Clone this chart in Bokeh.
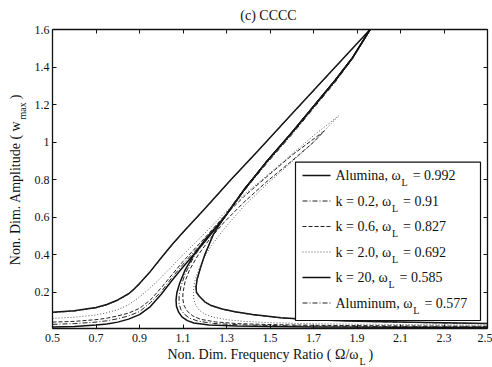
from bokeh.plotting import figure
from bokeh.models import Range1d, FixedTicker, LinearAxis
from bokeh.core.properties import value
from bokeh.embed import file_html
from bokeh.resources import INLINE

# ---------------- data ----------------
x_ticks = [0.5, 0.7, 0.9, 1.1, 1.3, 1.5, 1.7, 1.9, 2.1, 2.3, 2.5]
x_tick_labels = ["0.5", "0.7", "0.9", "1.1", "1.3", "1.5", "1.7", "1.9", "2.1", "2.3", "2.5"]
y_ticks = [0.2, 0.4, 0.6, 0.8, 1.0, 1.2, 1.4, 1.6]
y_tick_labels = ["0.2", "0.4", "0.6", "0.8", "1", "1.2", "1.4", "1.6"]

series_names = ["Alumina", "k = 0.2", "k = 0.6", "k = 2.0", "k = 20", "Aluminum"]
omega_L = ["0.992", "0.91", "0.827", "0.692", "0.585", "0.577"]

alumina_left_x = [0.5, 0.6, 0.7, 0.75, 0.8, 0.85, 0.9, 0.95, 1.0, 1.05, 1.1, 1.2, 1.284, 1.38, 1.48, 1.6, 1.7, 1.8, 1.88, 1.96]
alumina_left_y = [0.016, 0.019, 0.026, 0.032, 0.042, 0.058, 0.082, 0.125, 0.19, 0.265, 0.335, 0.47, 0.59, 0.745, 0.89, 1.05, 1.19, 1.33, 1.45, 1.6]
alumina_right_x = [2.5, 2.1, 1.7, 1.5, 1.35, 1.22, 1.15, 1.12, 1.095, 1.08, 1.07, 1.068, 1.072, 1.085, 1.11, 1.15, 1.2, 1.284, 1.38, 1.48, 1.6, 1.7, 1.8, 1.88, 1.96]
alumina_right_y = [0.013, 0.014, 0.016, 0.018, 0.021, 0.027, 0.037, 0.05, 0.07, 0.095, 0.125, 0.16, 0.2, 0.25, 0.32, 0.4, 0.48, 0.59, 0.745, 0.89, 1.05, 1.19, 1.33, 1.45, 1.6]

k02_left_x = [0.5, 0.6, 0.7, 0.75, 0.8, 0.85, 0.9, 0.95, 1.0, 1.05, 1.1, 1.2, 1.284, 1.38, 1.48, 1.6, 1.7, 1.8, 1.87]
k02_left_y = [0.030, 0.034, 0.042, 0.049, 0.06, 0.075, 0.098, 0.145, 0.205, 0.28, 0.35, 0.48, 0.595, 0.75, 0.892, 1.052, 1.192, 1.332, 1.44]
k02_right_x = [2.5, 2.1, 1.7, 1.5, 1.35, 1.24, 1.17, 1.13, 1.105, 1.09, 1.082, 1.082, 1.09, 1.11, 1.15, 1.2, 1.284, 1.38, 1.48, 1.6, 1.7, 1.8, 1.87]
k02_right_y = [0.017, 0.018, 0.021, 0.024, 0.028, 0.035, 0.047, 0.063, 0.085, 0.11, 0.14, 0.18, 0.23, 0.3, 0.39, 0.47, 0.59, 0.74, 0.88, 1.04, 1.18, 1.32, 1.43]

k06_left_x = [0.5, 0.6, 0.7, 0.75, 0.8, 0.85, 0.9, 0.95, 1.0, 1.05, 1.1, 1.2, 1.284, 1.38, 1.484, 1.6, 1.75]
k06_left_y = [0.042, 0.046, 0.055, 0.063, 0.075, 0.09, 0.115, 0.16, 0.225, 0.295, 0.365, 0.49, 0.6, 0.71, 0.815, 0.93, 1.06]
k06_right_x = [2.5, 2.1, 1.7, 1.5, 1.35, 1.25, 1.18, 1.145, 1.12, 1.105, 1.099, 1.1, 1.11, 1.13, 1.17, 1.22, 1.29, 1.38, 1.48, 1.6, 1.7, 1.75]
k06_right_y = [0.02, 0.022, 0.025, 0.029, 0.034, 0.043, 0.057, 0.075, 0.1, 0.13, 0.165, 0.2, 0.26, 0.32, 0.4, 0.48, 0.575, 0.68, 0.785, 0.9, 1.0, 1.06]

k2_left_x = [0.5, 0.6, 0.7, 0.75, 0.8, 0.85, 0.9, 0.95, 1.0, 1.05, 1.1, 1.2, 1.284, 1.38, 1.484, 1.6, 1.7, 1.815]
k2_left_y = [0.062, 0.068, 0.08, 0.092, 0.108, 0.135, 0.175, 0.225, 0.28, 0.34, 0.40, 0.515, 0.615, 0.72, 0.82, 0.935, 1.035, 1.14]
k2_right_x = [2.5, 2.1, 1.7, 1.5, 1.38, 1.3, 1.24, 1.2, 1.175, 1.16, 1.15, 1.148, 1.152, 1.165, 1.19, 1.23, 1.29, 1.38, 1.484, 1.6, 1.7, 1.815]
k2_right_y = [0.026, 0.029, 0.033, 0.039, 0.046, 0.055, 0.068, 0.085, 0.105, 0.13, 0.16, 0.2, 0.25, 0.3, 0.37, 0.45, 0.54, 0.66, 0.775, 0.895, 1.0, 1.14]

k20_left_x = [0.5, 0.6, 0.7, 0.75, 0.8, 0.85, 0.875, 0.9, 0.95, 1.0, 1.05, 1.1, 1.2, 1.32, 1.445, 1.6, 1.8, 1.96]
k20_left_y = [0.095, 0.103, 0.12, 0.136, 0.16, 0.193, 0.218, 0.247, 0.312, 0.385, 0.455, 0.52, 0.645, 0.80, 0.955, 1.15, 1.40, 1.60]
k20_right_x = [2.5, 2.3, 2.1, 1.9, 1.7, 1.55, 1.42, 1.34, 1.28, 1.23, 1.2, 1.175, 1.162, 1.16, 1.165, 1.18, 1.2, 1.24, 1.284, 1.38, 1.48, 1.6, 1.7, 1.8, 1.88, 1.96]
k20_right_y = [0.035, 0.038, 0.042, 0.047, 0.055, 0.065, 0.082, 0.097, 0.112, 0.13, 0.15, 0.18, 0.2, 0.23, 0.27, 0.33, 0.40, 0.51, 0.59, 0.745, 0.89, 1.05, 1.19, 1.33, 1.45, 1.60]

aluminum_left_x = [0.5, 0.6, 0.7, 0.75, 0.8, 0.85, 0.875, 0.9, 0.95, 1.0, 1.05, 1.1, 1.2, 1.32, 1.445, 1.6, 1.8, 1.88]
aluminum_left_y = [0.093, 0.101, 0.118, 0.134, 0.158, 0.191, 0.216, 0.245, 0.31, 0.383, 0.453, 0.518, 0.643, 0.798, 0.953, 1.148, 1.398, 1.498]
aluminum_right_x = [2.5, 2.3, 2.1, 1.9, 1.7, 1.55, 1.42, 1.34, 1.28, 1.23, 1.2, 1.175, 1.162, 1.16, 1.165, 1.18, 1.2, 1.24, 1.284, 1.38, 1.48, 1.6, 1.7, 1.8, 1.88]
aluminum_right_y = [0.034, 0.037, 0.041, 0.046, 0.054, 0.064, 0.081, 0.096, 0.111, 0.129, 0.149, 0.179, 0.2, 0.23, 0.27, 0.33, 0.40, 0.51, 0.59, 0.745, 0.89, 1.05, 1.19, 1.33, 1.45]

branches = [
    (alumina_left_x, alumina_left_y, alumina_right_x, alumina_right_y),
    (k02_left_x, k02_left_y, k02_right_x, k02_right_y),
    (k06_left_x, k06_left_y, k06_right_x, k06_right_y),
    (k2_left_x, k2_left_y, k2_right_x, k2_right_y),
    (k20_left_x, k20_left_y, k20_right_x, k20_right_y),
    (aluminum_left_x, aluminum_left_y, aluminum_right_x, aluminum_right_y),
]

# ---------------- styles / layout ----------------
styles = [
    dict(line_color="#111111", line_width=1.5, line_dash="solid"),
    dict(line_color="#222222", line_width=1.0, line_dash="5 2 1 2"),
    dict(line_color="#222222", line_width=1.0, line_dash="4 2"),
    dict(line_color="#555555", line_width=1.0, line_dash="1 2"),
    dict(line_color="#111111", line_width=1.5, line_dash="solid"),
    dict(line_color="#222222", line_width=1.0, line_dash="5 2 1 2"),
]

W, H = 492, 367
BL, BR, BT, BB = 52, 487, 29, 328     # box (plot area) edges in pixels
X0, X1 = 0.5, 2.5                      # data limits of the box
Y0, Y1 = 0.008, 1.6
SXP = (BR - BL) / (X1 - X0)            # px per x unit
SYP = (BB - BT) / (Y1 - Y0)            # px per y unit
XS, XE = X0 - BL / SXP, X1 + (W - BR) / SXP   # full-canvas frame ranges
YS, YE = Y0 - (H - BB) / SYP, Y1 + BT / SYP
FONT = "Liberation Serif"

# Times / Liberation Serif advance widths (per 1000 em) for text composition
CW = {' ': 250, ',': 250, '.': 250, '=': 564, 'A': 722, 'l': 278, 'u': 500, 'm': 778, 'i': 278,
      'n': 500, 'a': 444, 'k': 500, 'L': 611, 'ω': 686, 'N': 722, 'o': 500, 'D': 722, 'F': 556,
      'r': 333, 'e': 444, 'q': 500, 'c': 444, 'y': 500, 'R': 667, 't': 278, '(': 333, ')': 333,
      'Ω': 768, '/': 278, 'w': 722, 'x': 500, 'p': 500, 'd': 500, 'C': 667}


def tw(s, size):
    return sum(CW.get(ch, 500) for ch in s) * size / 1000.0


def dx(px):
    return XS + px / SXP


def dy(py):
    return YE - py / SYP


p = figure(width=W, height=H, output_backend="svg", toolbar_location=None,
           x_range=Range1d(XS, XE), y_range=Range1d(YS, YE),
           x_axis_location=None, y_axis_location=None,
           min_border=0, min_border_left=0, min_border_right=0, min_border_top=0, min_border_bottom=0)
p.title.visible = False
p.outline_line_color = None
p.background_fill_color = "white"
p.border_fill_color = "white"

ax_b = LinearAxis(ticker=FixedTicker(ticks=x_ticks), fixed_location=Y0, bounds=(X0, X1))
ax_t = LinearAxis(ticker=FixedTicker(ticks=x_ticks), fixed_location=Y1, bounds=(X0, X1))
ax_l = LinearAxis(ticker=FixedTicker(ticks=y_ticks), fixed_location=X0, bounds=(Y0, Y1))
ax_r = LinearAxis(ticker=FixedTicker(ticks=y_ticks), fixed_location=X1, bounds=(Y0, Y1))
p.add_layout(ax_b, "below")
p.add_layout(ax_t, "above")
p.add_layout(ax_l, "left")
p.add_layout(ax_r, "right")
ax_b.major_label_overrides = {t: l for t, l in zip(x_ticks, x_tick_labels)}
ax_l.major_label_overrides = {t: l for t, l in zip(y_ticks, y_tick_labels)}
ax_b.major_label_standoff = 5
ax_l.major_label_standoff = 3
for ax in (ax_b, ax_t, ax_l, ax_r):
    ax.major_tick_in = 4
    ax.major_tick_out = 0
    ax.minor_tick_line_color = None
    ax.axis_line_color = "#111111"
    ax.axis_line_width = 1.3
    ax.major_tick_line_color = "#111111"
    ax.major_label_text_font = FONT
    ax.major_label_text_font_size = "12px"
    ax.major_label_text_color = "#111111"
for ax in (ax_t, ax_r):
    ax.major_label_text_color = None
    ax.major_label_standoff = 0
p.grid.visible = False

# ---------------- curves ----------------
for (lx, ly, rx, ry), st in zip(branches, styles):
    p.line(lx, ly, line_join="round", **st)
    p.line(rx, ry, line_join="round", **st)


def txt(px, py, s, size=14, align="left", angle=0.0):
    p.text(x=[dx(px)], y=[dy(py)], text=[s], text_font=value(FONT), text_font_size=value(f"{size}px"),
           text_align=align, text_baseline="middle", text_color="#111111", angle=angle)


# ---------------- legend ----------------
p.quad(left=[dx(295)], right=[dx(480)], top=[dy(161.7)], bottom=[dy(320)],
       fill_color="white", line_color="#111111", line_width=1.2)
row0, row_step = 175.0, 25.5
tx = 335.0
for i, (name, om, st) in enumerate(zip(series_names, omega_L, styles)):
    py = row0 + i * row_step
    p.line([dx(302), dx(330)], [dy(py), dy(py)], **st)
    prefix = name + ", ω"
    w_pre = tw(prefix, 14)
    txt(tx, py, prefix)
    txt(tx + w_pre + 0.5, py + 7, "L", size=10)
    txt(tx + w_pre + 0.5 + tw("L", 10) + 5, py, "= " + om)

# ---------------- title & axis labels ----------------
txt(268, 15, "(c) CCCC", align="center")

xl_end = 358.0
txt(xl_end, 354, "Non. Dim. Frequency Ratio ( Ω/ω", align="right")
txt(xl_end + 1, 361, "L", size=10)
txt(xl_end + 1 + tw("L", 10) + 3, 354, ")")

yl_top = 120.0
txt(15, yl_top, "Non. Dim. Amplitude ( w", align="right", angle=1.5707963)
txt(22, yl_top - 1, "max", size=10, angle=1.5707963)
txt(15, yl_top - 1 - tw("max", 10) - 3, ")", angle=1.5707963)

open("out.html", "w").write(file_html(p, INLINE))
